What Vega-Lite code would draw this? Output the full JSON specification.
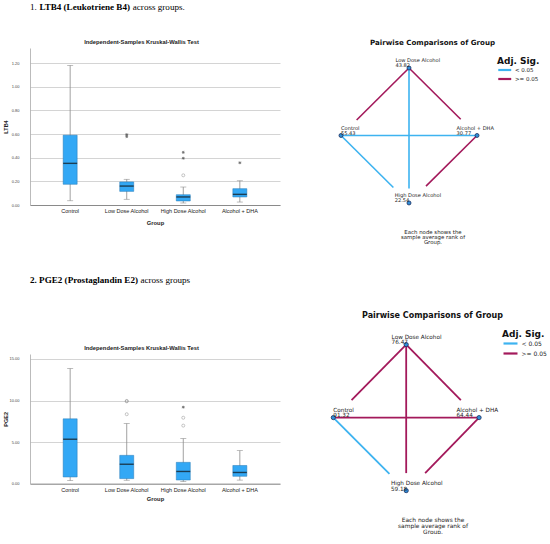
{
  "$schema": "https://vega.github.io/schema/vega-lite/v6.json",
  "padding": {"left": 3, "top": 2, "right": 0, "bottom": 0},
  "background": "white",
  "datasets": {
    "ltb4": [
      {"group": "Control", "min": 0.036, "q1": 0.175, "median": 0.352, "q3": 0.59, "max": 1.18},
      {"group": "Low Dose Alcohol", "min": 0.048, "q1": 0.115, "median": 0.16, "q3": 0.195, "max": 0.217},
      {"group": "High Dose Alcohol", "min": 0.017, "q1": 0.034, "median": 0.068, "q3": 0.087, "max": 0.152},
      {"group": "Alcohol + DHA", "min": 0.025, "q1": 0.068, "median": 0.09, "q3": 0.138, "max": 0.205}
    ],
    "ltb4_out": [
      {"group": "Low Dose Alcohol", "value": 0.595, "kind": "extreme"},
      {"group": "Low Dose Alcohol", "value": 0.578, "kind": "extreme"},
      {"group": "High Dose Alcohol", "value": 0.251, "kind": "outlier"},
      {"group": "High Dose Alcohol", "value": 0.395, "kind": "extreme"},
      {"group": "High Dose Alcohol", "value": 0.445, "kind": "extreme"},
      {"group": "Alcohol + DHA", "value": 0.357, "kind": "extreme"}
    ],
    "pge2": [
      {"group": "Control", "min": 0.36, "q1": 0.8, "median": 5.34, "q3": 7.8, "max": 13.85},
      {"group": "Low Dose Alcohol", "min": 0.4, "q1": 0.6, "median": 2.33, "q3": 3.4, "max": 7.23},
      {"group": "High Dose Alcohol", "min": 0.24, "q1": 0.43, "median": 1.46, "q3": 2.56, "max": 5.42},
      {"group": "Alcohol + DHA", "min": 0.42, "q1": 0.88, "median": 1.34, "q3": 2.18, "max": 3.97}
    ],
    "pge2_out": [
      {"group": "Low Dose Alcohol", "value": 9.95, "kind": "outlier"},
      {"group": "Low Dose Alcohol", "value": 9.9, "kind": "outlier"},
      {"group": "Low Dose Alcohol", "value": 8.35, "kind": "outlier"},
      {"group": "High Dose Alcohol", "value": 6.98, "kind": "outlier"},
      {"group": "High Dose Alcohol", "value": 7.93, "kind": "outlier"},
      {"group": "High Dose Alcohol", "value": 9.2, "kind": "extreme"}
    ],
    "nodes1": [
      {"group": "Low Dose Alcohol", "rank": 43.82, "x": 0, "y": 1, "lx": -0.2},
      {"group": "Control", "rank": 55.43, "x": -1, "y": 0, "lx": -1.0},
      {"group": "Alcohol + DHA", "rank": 30.77, "x": 1, "y": 0, "lx": 0.7},
      {"group": "High Dose Alcohol", "rank": 22.54, "x": 0, "y": -1, "lx": -0.21}
    ],
    "edges1": [
      {"pair": "Low-Control", "sig": ">= 0.05", "x": 0, "y": 1, "x2": -0.77, "y2": 0.23},
      {"pair": "Low-DHA", "sig": ">= 0.05", "x": 0, "y": 1, "x2": 0.76, "y2": 0.24},
      {"pair": "Low-High", "sig": "< 0.05", "x": 0, "y": 1, "x2": 0, "y2": -0.785},
      {"pair": "Control-DHA", "sig": "< 0.05", "x": -1, "y": 0, "x2": 1, "y2": 0},
      {"pair": "Control-High", "sig": "< 0.05", "x": -1, "y": 0, "x2": -0.23, "y2": -0.77},
      {"pair": "DHA-High", "sig": ">= 0.05", "x": 1, "y": 0, "x2": 0.25, "y2": -0.75}
    ],
    "nodes2": [
      {"group": "Low Dose Alcohol", "rank": 76.47, "x": 0, "y": 1, "lx": -0.2},
      {"group": "Control", "rank": 91.32, "x": -1, "y": 0, "lx": -1.0},
      {"group": "Alcohol + DHA", "rank": 64.44, "x": 1, "y": 0, "lx": 0.69},
      {"group": "High Dose Alcohol", "rank": 59.18, "x": 0, "y": -1, "lx": -0.21}
    ],
    "edges2": [
      {"pair": "Low-Control", "sig": ">= 0.05", "x": 0, "y": 1, "x2": -0.75, "y2": 0.24},
      {"pair": "Low-DHA", "sig": ">= 0.05", "x": 0, "y": 1, "x2": 0.75, "y2": 0.24},
      {"pair": "Low-High", "sig": ">= 0.05", "x": 0, "y": 1, "x2": 0, "y2": -0.76},
      {"pair": "Control-DHA", "sig": ">= 0.05", "x": -1, "y": 0, "x2": 1, "y2": 0},
      {"pair": "Control-High", "sig": "< 0.05", "x": -1, "y": 0, "x2": -0.23, "y2": -0.77},
      {"pair": "DHA-High", "sig": ">= 0.05", "x": 1, "y": 0, "x2": 0.26, "y2": -0.76}
    ]
  },
  "spacing": 29,
  "resolve": {"scale": {"color": "independent"}, "legend": {"color": "independent"}},
  "vconcat": [
    {
      "spacing": 25,
      "resolve": {"scale": {"color": "independent"}, "legend": {"color": "independent"}},
      "vconcat": [
        {
          "spacing": 2.4,
          "hconcat": [
            {"data": {"values": [{}]}, "width": 1, "height": 1, "mark": {"type": "point", "opacity": 0, "size": 1},
             "title": {"text": "1.", "anchor": "start", "offset": 0, "font": "Liberation Serif", "fontSize": 9.1, "fontWeight": "normal", "color": "black"}},
            {"data": {"values": [{}]}, "width": 1, "height": 1, "mark": {"type": "point", "opacity": 0, "size": 1},
             "title": {"text": "LTB4 (Leukotriene B4)", "anchor": "start", "offset": 0, "font": "Liberation Serif", "fontSize": 9.1, "fontWeight": "bold", "color": "black"}},
            {"data": {"values": [{}]}, "width": 1, "height": 1, "mark": {"type": "point", "opacity": 0, "size": 1},
             "title": {"text": "across groups.", "anchor": "start", "offset": 0, "font": "Liberation Serif", "fontSize": 9.1, "fontWeight": "normal", "color": "black"}}
          ]
        },
        {
          "spacing": 37,
          "resolve": {"scale": {"color": "independent"}, "legend": {"color": "independent"}},
          "hconcat": [
            {
              "width": 250,
              "height": 157,
              "title": {"text": "Independent-Samples Kruskal-Wallis Test", "font": "Liberation Sans", "fontSize": 5.8, "fontWeight": "bold", "offset": 3, "frame": "bounds", "color": "#222"},
              "encoding": {
                "x": {"field": "group", "type": "nominal", "sort": null,
                      "scale": {"domain": ["Control", "Low Dose Alcohol", "High Dose Alcohol", "Alcohol + DHA"], "paddingInner": 0, "paddingOuter": 0.21},
                      "axis": {"title": "Group", "labelAngle": 0, "labelFont": "Liberation Sans", "labelFontSize": 5.5, "labelColor": "#222", "labelPadding": 3.5, "ticks": false, "domainColor": "#777", "domainWidth": 0.8, "titleFont": "Liberation Sans", "titleFontSize": 5.8, "titleFontWeight": "bold", "titleColor": "#222", "titlePadding": 5}}
              },
              "layer": [
                {"data": {"name": "ltb4"}, "mark": {"type": "rule", "color": "#8a8a8a", "strokeWidth": 0.8},
                 "encoding": {
                   "y": {"field": "min", "type": "quantitative", "title": "LTB4",
                         "scale": {"domain": [0, 1.327], "nice": false},
                         "axis": {"values": [0, 0.2, 0.4, 0.6, 0.8, 1.0, 1.2], "tickCount": 10, "format": ".2f", "labelOverlap": false, "labelFont": "Liberation Sans", "labelFontSize": 4, "labelColor": "#444", "labelPadding": 11, "ticks": false, "domainColor": "#aaa", "domainWidth": 0.8, "gridColor": "#d4d4d4", "gridWidth": 1, "titleFont": "Liberation Sans", "titleFontSize": 5.5, "titleFontWeight": "bold", "titleColor": "#222", "titleX": -22}},
                   "y2": {"field": "max"}}},
                {"data": {"name": "ltb4"}, "mark": {"type": "tick", "color": "#8a8a8a", "size": 6, "thickness": 0.8},
                 "encoding": {"y": {"field": "min", "type": "quantitative", "title": "LTB4"}}},
                {"data": {"name": "ltb4"}, "mark": {"type": "tick", "color": "#8a8a8a", "size": 6, "thickness": 0.8},
                 "encoding": {"y": {"field": "max", "type": "quantitative", "title": "LTB4"}}},
                {"data": {"name": "ltb4"}, "mark": {"type": "bar", "size": 14, "fill": "#33A8F5", "stroke": "#2478B5", "strokeWidth": 0.5},
                 "encoding": {"y": {"field": "q1", "type": "quantitative", "title": "LTB4"}, "y2": {"field": "q3"}}},
                {"data": {"name": "ltb4"}, "mark": {"type": "tick", "color": "#111", "size": 14, "thickness": 1.4},
                 "encoding": {"y": {"field": "median", "type": "quantitative", "title": "LTB4"}}},
                {"data": {"name": "ltb4_out"}, "transform": [{"filter": "datum.kind == 'outlier'"}],
                 "mark": {"type": "point", "shape": "circle", "filled": false, "size": 9, "strokeWidth": 0.7, "color": "#8a8a8a"},
                 "encoding": {"y": {"field": "value", "type": "quantitative", "title": "LTB4"}}},
                {"data": {"name": "ltb4_out"}, "transform": [{"filter": "datum.kind == 'extreme'"}],
                 "mark": {"type": "point", "shape": "M-1,0L1,0M0,-1L0,1M-0.7,-0.7L0.7,0.7M-0.7,0.7L0.7,-0.7", "filled": false, "size": 8, "strokeWidth": 0.8, "color": "#333"},
                 "encoding": {"y": {"field": "value", "type": "quantitative", "title": "LTB4"}}}
              ]
            },
            {
              "width": 231,
              "height": 162,
              "title": {"text": "Pairwise Comparisons of Group", "font": "DejaVu Sans", "fontSize": 7.1, "fontWeight": "bold", "offset": 2, "color": "#111"},
              "encoding": {
                "x": {"field": "x", "type": "quantitative",
                      "scale": {"domain": [-1.353, 2.044], "nice": false, "zero": false},
                      "axis": {"title": ["Each node shows the", "sample average rank of", "Group."], "domain": false, "ticks": false, "labels": false, "grid": false, "titleFont": "DejaVu Sans", "titleFontSize": 5.4, "titleFontWeight": "normal", "titleColor": "#222", "titleLineHeight": 5.4, "titlePadding": 19}},
                "y": {"field": "y", "type": "quantitative",
                      "scale": {"domain": [-1.104, 1.296], "nice": false, "zero": false}, "axis": null}
              },
              "layer": [
                {"data": {"name": "edges1"}, "mark": {"type": "rule", "strokeWidth": 1.6},
                 "encoding": {
                   "x2": {"field": "x2"}, "y2": {"field": "y2"},
                   "color": {"field": "sig", "type": "nominal", "scale": {"domain": ["< 0.05", ">= 0.05"], "range": ["#3DB3F0", "#A3195B"]},
                             "legend": {"title": "Adj. Sig.", "orient": "none", "legendX": 180, "legendY": 8.5, "symbolType": "M-1,0L3,0", "symbolStrokeWidth": 2.2, "symbolSize": 42, "titleFont": "DejaVu Sans", "titleFontSize": 9, "titleFontWeight": "bold", "titleColor": "#111", "labelFont": "DejaVu Sans", "labelFontSize": 5.5, "labelColor": "#222", "rowPadding": -0.8, "labelOffset": 9, "titlePadding": 0}}}},
                {"data": {"name": "nodes1"}, "mark": {"type": "point", "shape": "circle", "filled": true, "size": 16, "fill": "#2E8FD8", "stroke": "#1c2f5e", "strokeWidth": 0.8, "opacity": 1}},
                {"data": {"name": "nodes1"},
                 "transform": [
                   {"calculate": "[datum.group, format(datum.rank, '.2f')]", "as": "label"},
                   {"calculate": "datum.lx", "as": "x"}
                 ],
                 "mark": {"type": "text", "align": "left", "baseline": "bottom", "dy": -4.5, "font": "DejaVu Sans", "fontSize": 5.1, "lineHeight": 5, "color": "#222"},
                 "encoding": {"text": {"field": "label"}}}
              ]
            }
          ]
        }
      ]
    },
    {
      "spacing": 25,
      "resolve": {"scale": {"color": "independent"}, "legend": {"color": "independent"}},
      "vconcat": [
        {
          "spacing": 2.4,
          "hconcat": [
            {"data": {"values": [{}]}, "width": 1, "height": 1, "mark": {"type": "point", "opacity": 0, "size": 1},
             "title": {"text": "2. PGE2 (Prostaglandin E2)", "anchor": "start", "offset": 0, "font": "Liberation Serif", "fontSize": 9.1, "fontWeight": "bold", "color": "black"}},
            {"data": {"values": [{}]}, "width": 1, "height": 1, "mark": {"type": "point", "opacity": 0, "size": 1},
             "title": {"text": "across groups", "anchor": "start", "offset": 0, "font": "Liberation Serif", "fontSize": 9.1, "fontWeight": "normal", "color": "black"}}
          ]
        },
        {
          "spacing": 37,
          "resolve": {"scale": {"color": "independent"}, "legend": {"color": "independent"}},
          "hconcat": [
            {
              "width": 250,
              "height": 129.6,
              "title": {"text": "Independent-Samples Kruskal-Wallis Test", "font": "Liberation Sans", "fontSize": 5.8, "fontWeight": "bold", "offset": 3, "frame": "bounds", "color": "#222"},
              "encoding": {
                "x": {"field": "group", "type": "nominal", "sort": null,
                      "scale": {"domain": ["Control", "Low Dose Alcohol", "High Dose Alcohol", "Alcohol + DHA"], "paddingInner": 0, "paddingOuter": 0.21},
                      "axis": {"title": "Group", "labelAngle": 0, "labelFont": "Liberation Sans", "labelFontSize": 5.5, "labelColor": "#222", "labelPadding": 3.5, "ticks": false, "domainColor": "#777", "domainWidth": 0.8, "titleFont": "Liberation Sans", "titleFontSize": 5.8, "titleFontWeight": "bold", "titleColor": "#222", "titlePadding": 3}}
              },
              "layer": [
                {"data": {"name": "pge2"}, "mark": {"type": "rule", "color": "#8a8a8a", "strokeWidth": 0.8},
                 "encoding": {
                   "y": {"field": "min", "type": "quantitative", "title": "PGE2",
                         "scale": {"domain": [0, 15.6], "nice": false},
                         "axis": {"values": [0, 5, 10, 15], "tickCount": 10, "format": ".2f", "labelOverlap": false, "labelFont": "Liberation Sans", "labelFontSize": 4, "labelColor": "#444", "labelPadding": 11, "ticks": false, "domainColor": "#aaa", "domainWidth": 0.8, "gridColor": "#d4d4d4", "gridWidth": 1, "titleFont": "Liberation Sans", "titleFontSize": 5.5, "titleFontWeight": "bold", "titleColor": "#222", "titleX": -22}},
                   "y2": {"field": "max"}}},
                {"data": {"name": "pge2"}, "mark": {"type": "tick", "color": "#8a8a8a", "size": 6, "thickness": 0.8},
                 "encoding": {"y": {"field": "min", "type": "quantitative", "title": "PGE2"}}},
                {"data": {"name": "pge2"}, "mark": {"type": "tick", "color": "#8a8a8a", "size": 6, "thickness": 0.8},
                 "encoding": {"y": {"field": "max", "type": "quantitative", "title": "PGE2"}}},
                {"data": {"name": "pge2"}, "mark": {"type": "bar", "size": 14, "fill": "#33A8F5", "stroke": "#2478B5", "strokeWidth": 0.5},
                 "encoding": {"y": {"field": "q1", "type": "quantitative", "title": "PGE2"}, "y2": {"field": "q3"}}},
                {"data": {"name": "pge2"}, "mark": {"type": "tick", "color": "#111", "size": 14, "thickness": 1.4},
                 "encoding": {"y": {"field": "median", "type": "quantitative", "title": "PGE2"}}},
                {"data": {"name": "pge2_out"}, "transform": [{"filter": "datum.kind == 'outlier'"}],
                 "mark": {"type": "point", "shape": "circle", "filled": false, "size": 9, "strokeWidth": 0.7, "color": "#8a8a8a"},
                 "encoding": {"y": {"field": "value", "type": "quantitative", "title": "PGE2"}}},
                {"data": {"name": "pge2_out"}, "transform": [{"filter": "datum.kind == 'extreme'"}],
                 "mark": {"type": "point", "shape": "M-1,0L1,0M0,-1L0,1M-0.7,-0.7L0.7,0.7M-0.7,0.7L0.7,-0.7", "filled": false, "size": 8, "strokeWidth": 0.8, "color": "#333"},
                 "encoding": {"y": {"field": "value", "type": "quantitative", "title": "PGE2"}}}
              ]
            },
            {
              "width": 231,
              "height": 141.3,
              "title": {"text": "Pairwise Comparisons of Group", "font": "DejaVu Sans", "fontSize": 8, "fontWeight": "bold", "offset": 10, "color": "#111"},
              "encoding": {
                "x": {"field": "x", "type": "quantitative",
                      "scale": {"domain": [-1.224, 1.946], "nice": false, "zero": false},
                      "axis": {"title": ["Each node shows the", "sample average rank of", "Group."], "domain": false, "ticks": false, "labels": false, "grid": false, "titleFont": "DejaVu Sans", "titleFontSize": 5.9, "titleFontWeight": "normal", "titleColor": "#222", "titleLineHeight": 5.9, "titlePadding": 21}},
                "y": {"field": "y", "type": "quantitative",
                      "scale": {"domain": [-1.064, 0.871], "nice": false, "zero": false}, "axis": null}
              },
              "layer": [
                {"data": {"name": "edges2"}, "mark": {"type": "rule", "strokeWidth": 1.8},
                 "encoding": {
                   "x2": {"field": "x2"}, "y2": {"field": "y2"},
                   "color": {"field": "sig", "type": "nominal", "scale": {"domain": ["< 0.05", ">= 0.05"], "range": ["#3DB3F0", "#A3195B"]},
                             "legend": {"title": "Adj. Sig.", "orient": "none", "legendX": 185, "legendY": -24.5, "symbolType": "M-1,0L3,0", "symbolStrokeWidth": 2.2, "symbolSize": 49, "titleFont": "DejaVu Sans", "titleFontSize": 9, "titleFontWeight": "bold", "titleColor": "#111", "labelFont": "DejaVu Sans", "labelFontSize": 6, "labelColor": "#222", "rowPadding": 0, "labelOffset": 9.5, "titlePadding": 0}}}},
                {"data": {"name": "nodes2"}, "mark": {"type": "point", "shape": "circle", "filled": true, "size": 18, "fill": "#2E8FD8", "stroke": "#1c2f5e", "strokeWidth": 0.8, "opacity": 1}},
                {"data": {"name": "nodes2"},
                 "transform": [
                   {"calculate": "[datum.group, format(datum.rank, '.2f')]", "as": "label"},
                   {"calculate": "datum.lx", "as": "x"}
                 ],
                 "mark": {"type": "text", "align": "left", "baseline": "bottom", "dy": -4.5, "font": "DejaVu Sans", "fontSize": 5.7, "lineHeight": 5.4, "color": "#222"},
                 "encoding": {"text": {"field": "label"}}}
              ]
            }
          ]
        }
      ]
    }
  ],
  "config": {"view": {"stroke": null}}
}
